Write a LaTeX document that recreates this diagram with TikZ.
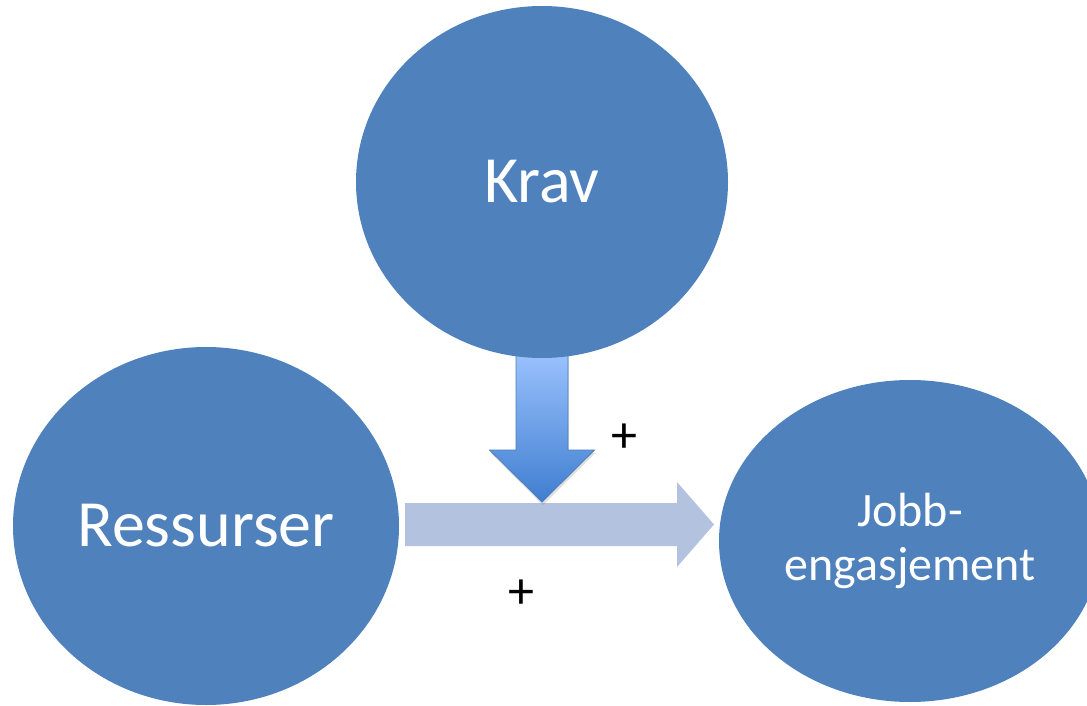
\documentclass[tikz,border=0pt]{standalone}
\usepackage{fontspec}
\setmainfont{Carlito}
\usetikzlibrary{calc,shadows,shapes.geometric}
\definecolor{blobblue}{HTML}{4F81BD}
\definecolor{flowblue}{HTML}{B3C2DE}
\definecolor{pushtop}{HTML}{9CC3FF}
\definecolor{pushbot}{HTML}{3F7ECF}
\definecolor{pushedge}{HTML}{4A7DBA}
\tikzset{
  blob/.style={ellipse, fill=blobblue, draw=none, inner sep=0pt,
    text=white, align=center},
  bigtext/.style={font=\fontsize{66}{79}\selectfont},
  midtext/.style={font=\fontsize{48}{54}\selectfont},
  plussign/.style={font=\fontsize{52}{56}\selectfont, text=black, inner sep=0pt},
}
\begin{document}
\begin{tikzpicture}[x=1pt,y=-1pt]
\useasboundingbox (0,0) rectangle (1087,706);
\clip (0,0) rectangle (1087,706);

% horizontal block arrow: Ressurser -> Jobb-engasjement
\coordinate (hstart) at (405,524.5);
\coordinate (htip) at (714,524.5);
\fill[flowblue]
  ($(hstart)+(0,-21.5)$) -- ($(htip)+(-37,-21.5)$) -- ($(htip)+(-37,-42.5)$)
  -- (htip)
  -- ($(htip)+(-37,42.5)$) -- ($(htip)+(-37,21.5)$) -- ($(hstart)+(0,21.5)$) -- cycle;

% vertical block arrow from Krav onto the horizontal arrow
\coordinate (vstart) at (542,350);
\coordinate (vtip) at (542,502);
\draw[pushedge, line width=0.8pt, top color=pushtop, bottom color=pushbot,
      drop shadow={opacity=0.25, shadow xshift=1pt, shadow yshift=-3pt}]
  ($(vstart)+(-26,0)$) -- ($(vtip)+(-26,-52)$) -- ($(vtip)+(-52.5,-52)$)
  -- (vtip)
  -- ($(vtip)+(52.5,-52)$) -- ($(vtip)+(26,-52)$) -- ($(vstart)+(26,0)$) -- cycle;

% the three factors
\node[blob, bigtext, minimum width=372pt, minimum height=352pt] (krav) at (542,182) {Krav};
\node[blob, bigtext, minimum width=386pt, minimum height=358pt] (res) at (206,526) {Ressurser};
\node[blob, midtext, minimum width=382pt, minimum height=322pt] (job) at (910,541) {Jobb-\\engasjement};

% signs of the effects
\node[plussign] (pa) at (624,438) {+};
\node[plussign] (pb) at (521,594) {+};
\end{tikzpicture}
\end{document}
